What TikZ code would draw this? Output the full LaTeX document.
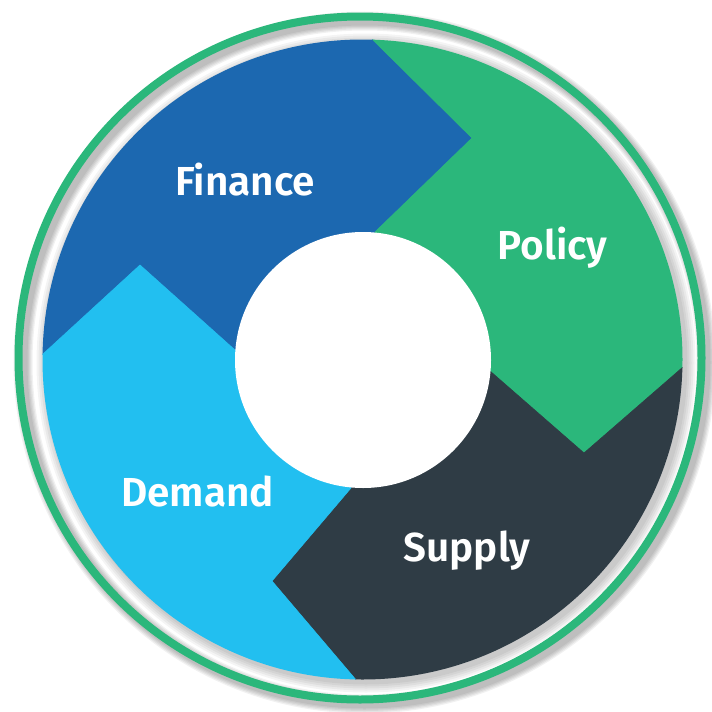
\documentclass[tikz,border=0pt]{standalone}
\usepackage{fontspec}
\newfontfamily\labfont{Fira Sans SemiBold}
\definecolor{ringgreen}{RGB}{43,183,123}
\definecolor{finblue}{RGB}{28,104,176}
\definecolor{demblue}{RGB}{34,191,240}
\definecolor{supdark}{RGB}{47,60,69}
\begin{document}
\begin{tikzpicture}[x=1pt,y=-1pt,
  lab/.style={text=white, font=\labfont\fontsize{40.5}{46}\selectfont, anchor=base, inner sep=0pt},
  sector/.style={fill=#1, draw=#1, line width=0.6pt, line join=miter}]
\useasboundingbox (0,0) rectangle (712,712);
\fill[white] (0,0) rectangle (712,712);
% ring shadow
\foreach \w in {9,11.5,14,16.5,19} {
  \draw[black, opacity=0.055, line width=\w pt] (364.5,362.5) circle[radius=341.5pt];
}
% disk shadow
\foreach \r in {321.5,323.5,325.5,327.5,329.5} {
  \fill[black, opacity=0.045] (366,363) circle[radius=\r pt];
}
% green ring
\draw[ringgreen, line width=8pt] (360,358) circle[radius=341.5pt];
% sectors
\coordinate (c) at (363,360);
\begin{scope}
  \clip (362.5,359.5) circle[radius=320pt];
  % Finance
  \fill[sector=finblue] (c) -- (375,232) -- (472,138) -- (373,40) -- (343,10) -- (-50,-50) -- (-50,400) -- (14,381) -- (43,354) -- (140,265) -- (235,350) -- cycle;
  % Policy
  \fill[sector=ringgreen] (c) -- (490,371) -- (584,453) -- (683,367) -- (713,341) -- (760,-50) -- (343,10) -- (373,40) -- (472,138) -- (375,232) -- cycle;
  % Supply
  \fill[sector=supdark] (c) -- (351,488) -- (272,581) -- (357,681) -- (382.5,711) -- (760,760) -- (713,341) -- (683,367) -- (584,453) -- (490,371) -- cycle;
  % Demand
  \fill[sector=demblue] (c) -- (235,350) -- (140,265) -- (43,354) -- (14,381) -- (-50,760) -- (382.5,711) -- (357,681) -- (272,581) -- (351,488) -- cycle;
\end{scope}
% hole
\fill[white] (c) circle[radius=128pt];
% labels
\node[lab] (finance) at (245,195) {Finance};
\node[lab] (policy) at (552.5,259.5) {Policy};
\node[lab] (demand) at (197.5,506.5) {Demand};
\node[lab] (supply) at (467,561) {Supply};
\end{tikzpicture}
\end{document}
